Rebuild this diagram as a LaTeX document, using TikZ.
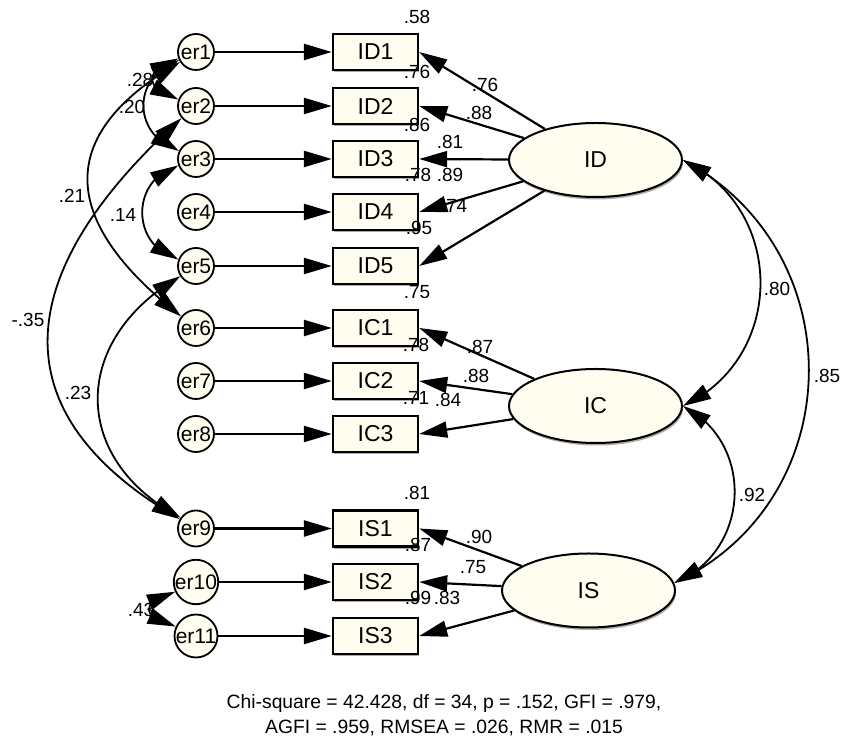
\documentclass[tikz,border=0pt]{standalone}
\usepackage{fontspec}
\setmainfont{Liberation Sans}
\usetikzlibrary{arrows.meta,bending,shadows,shapes.geometric}
\definecolor{cream}{RGB}{254,253,240}
\begin{document}
\begin{tikzpicture}[x=1pt,y=1pt,
  shad/.style={drop shadow={shadow xshift=1pt,shadow yshift=-2.5pt,fill=black!55,opacity=0.6}},
  obs/.style={draw,line width=2.4pt,fill=cream,minimum width=85pt,minimum height=36pt,inner sep=0pt,font=\fontsize{23}{25}\selectfont,shad},
  err/.style={circle,draw,line width=1.8pt,fill=cream,minimum size=36pt,inner sep=0pt,font=\fontsize{21}{23}\selectfont},
  lat/.style={ellipse,draw,line width=2pt,fill=cream,minimum width=173pt,minimum height=74pt,inner sep=0pt,font=\fontsize{23}{25}\selectfont,shad},
  num/.style={inner sep=0pt,font=\fontsize{19}{21}\selectfont},
  head/.tip={Triangle[length=28pt,width=16pt]},
  path1/.style={-head,line width=2.6pt},
  load/.style={-head,line width=2.2pt},
  cov/.style={head-head,line width=1.8pt}
]
\useasboundingbox (0,0) rectangle (841,738);

% latent variables
\node[lat] (ID) at (595.5,578) {ID};
\node[lat] (IC) at (595.5,332) {IC};
\node[lat] (IS) at (588.5,147.5) {IS};

% observed variables
\node[obs] (ID1) at (375.5,686) {ID1};
\node[obs] (ID2) at (375.5,632) {ID2};
\node[obs] (ID3) at (375.5,579) {ID3};
\node[obs] (ID4) at (375.5,526) {ID4};
\node[obs] (ID5) at (375.5,472) {ID5};
\node[obs] (IC1) at (375.5,410) {IC1};
\node[obs] (IC2) at (375.5,357) {IC2};
\node[obs] (IC3) at (375.5,304) {IC3};
\node[obs] (IS1) at (375.5,209.5) {IS1};
\node[obs] (IS2) at (375.5,156) {IS2};
\node[obs] (IS3) at (375.5,102) {IS3};

% error terms
\node[err] (e1) at (196,686) {er1};
\node[err] (e2) at (196,632) {er2};
\node[err] (e3) at (196,579) {er3};
\node[err] (e4) at (196,526) {er4};
\node[err] (e5) at (196,472) {er5};
\node[err] (e6) at (196,410) {er6};
\node[err] (e7) at (196,357) {er7};
\node[err] (e8) at (196,304) {er8};
\node[err] (e9) at (196,209.5) {er9};
\node[err] (e10) at (196,156) {er10};
\node[err] (e11) at (196,102) {er11};

% error paths
\foreach \e/\o in {e1/ID1,e2/ID2,e3/ID3,e4/ID4,e5/ID5,e6/IC1,e7/IC2,e8/IC3,e9/IS1,e10/IS2,e11/IS3}
  \draw[path1] (\e) -- (\o);

% loadings
\foreach \o in {ID1,ID2,ID3,ID4,ID5} \draw[load] (ID) -- (\o.east);
\foreach \o in {IC1,IC2,IC3} \draw[load] (IC) -- (\o.east);
\foreach \o in {IS1,IS2,IS3} \draw[load] (IS) -- (\o.east);

% factor correlations
\draw[cov] (ID.east) to[out=-25,in=25,distance=114pt] (IC.east);
\draw[cov] (ID.east) to[out=-28,in=25,distance=194pt] (IS.5);
\draw[cov] (IC.east) to[out=-27,in=22,distance=82pt] (IS.5);

% error covariances
\draw[cov] (e1.200) to[out=196,in=164,distance=36pt] (e2.160);
\draw[cov] (e1.205) to[out=199,in=161,distance=50pt] (e3.155);
\draw[cov] (e1.212) to[out=210,in=142,distance=150pt] (e6.142);
\draw[cov] (e2.220) to[out=222,in=150,distance=220pt] (e9.150);
\draw[cov] (e3.200) to[out=196,in=164,distance=50pt] (e5.160);
\draw[cov] (e5.213) to[out=210,in=152,distance=126pt] (e9.145);
\draw[cov] (e10.205) to[out=192,in=168,distance=36pt] (e11.155);

% squared multiple correlations
\node[num] (r1) at (417,721) {.58};
\node[num] (r2) at (417,666) {.76};
\node[num] (r3) at (417,613) {.86};
\node[num] (r4) at (418,563) {.78};
\node[num] (r5) at (419,510) {.95};
\node[num] (r6) at (417,446) {.75};
\node[num] (r7) at (416,393) {.78};
\node[num] (r8) at (416,340) {.71};
\node[num] (r9) at (417,245) {.81};
\node[num] (r10) at (418,193) {.87};
\node[num] (r11) at (418,140) {.99};

% loading values
\node[num] (w1) at (485,653) {.76};
\node[num] (w2) at (479,625) {.88};
\node[num] (w3) at (450,596) {.81};
\node[num] (w4) at (450,563) {.89};
\node[num] (w5) at (454,532) {.74};
\node[num] (w6) at (480,391) {.87};
\node[num] (w7) at (476,362) {.88};
\node[num] (w8) at (448,338) {.84};
\node[num] (w9) at (479,201) {.90};
\node[num] (w10) at (473,171) {.75};
\node[num] (w11) at (447,140) {.83};

% correlation values
\node[num] (c1) at (777,449) {.80};
\node[num] (c2) at (827,362) {.85};
\node[num] (c3) at (752,243) {.92};
\node[num] (c4) at (140,658) {.28};
\node[num] (c5) at (132,631) {.20};
\node[num] (c6) at (72,542) {.21};
\node[num] (c7) at (123,523) {.14};
\node[num] (c8) at (28,418) {-.35};
\node[num] (c9) at (78,345) {.23};
\node[num] (c10) at (141,128) {.43};

% fit indices
\node[align=center,inner sep=0pt,font=\fontsize{19.3}{25}\selectfont] (fit) at (444,23)
  {Chi-square = 42.428, df = 34, p = .152, GFI = .979,\\AGFI = .959, RMSEA = .026, RMR = .015};
\end{tikzpicture}
\end{document}
